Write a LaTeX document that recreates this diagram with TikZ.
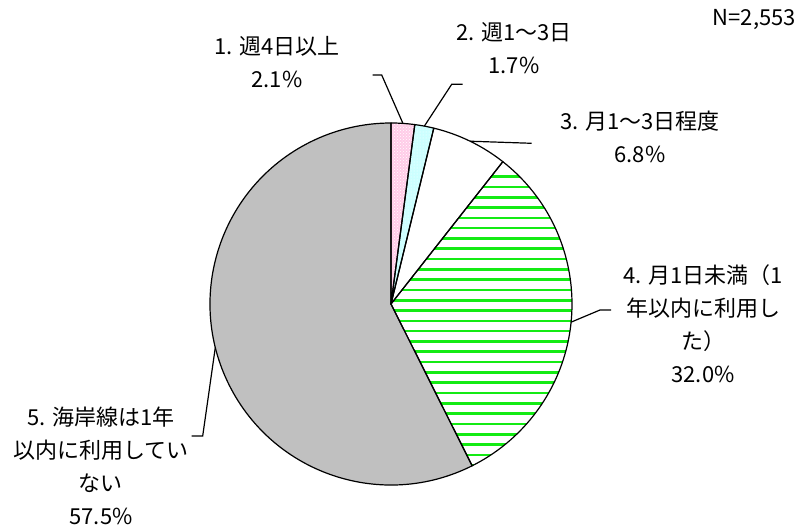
\documentclass[tikz,border=0pt]{standalone}
\usepackage{fontspec}
\setmainfont{Noto Sans CJK JP}
\usepackage{xcolor}
\usepackage{tikz}
\usetikzlibrary{patterns}
\definecolor{pinkfill}{RGB}{255,204,232}
\definecolor{cyanfill}{RGB}{204,255,255}
\definecolor{grayfill}{RGB}{192,192,192}
\definecolor{stripegreen}{RGB}{20,235,20}

\begin{document}
\begin{tikzpicture}[x=1pt,y=1pt,
          slice/.style={draw,line width=1.2pt,line join=round},
          lead/.style={draw,line width=1.2pt},
          lbl/.style={align=center,inner sep=0pt,font=\fontsize{22}{33}\selectfont}]
          \def\r{181}
          \useasboundingbox (0,0) rectangle (801,528);
          \coordinate (O) at (391,224);
          \fill[grayfill] (O) -- +(-63.36:\r) arc[start angle=-63.36,end angle=-270,radius=\r] -- cycle;
          \fill[pinkfill] (O) -- +(90:\r) arc[start angle=90,end angle=82.44,radius=\r] -- cycle;
          \fill[pattern=crosshatch dots,pattern color=white] (O) -- +(90:\r) arc[start angle=90,end angle=82.44,radius=\r] -- cycle;
          \fill[cyanfill] (O) -- +(82.44:\r) arc[start angle=82.44,end angle=76.32,radius=\r] -- cycle;
          \fill[pattern=dots,pattern color=white] (O) -- +(82.44:\r) arc[start angle=82.44,end angle=76.32,radius=\r] -- cycle;
          \begin{scope}
            \clip (O) -- +(51.84:\r) arc[start angle=51.84,end angle=-63.36,radius=\r] -- cycle;
            \foreach \k in {0,...,30}
              \draw[stripegreen,line width=2.6pt] (380,{351.3-10.3*\k}) -- (590,{351.3-10.3*\k});
          \end{scope}
          \foreach \a/\b in {90/82.44,82.44/76.32,76.32/51.84,51.84/-63.36,-63.36/-270}
            \draw[slice] (O) -- +(\a:\r) arc[start angle=\a,end angle=\b,radius=\r] -- cycle;
          \path (O) ++(86.22:\r) coordinate (p1)
                (O) ++(79.38:\r) coordinate (p2)
                (O) ++(64.08:\r) coordinate (p3)
                (O) ++(-5.76:\r) coordinate (p4)
                (O) ++(193.9:\r) coordinate (p5);
          \coordinate (k1) at (381.7,453);
          \coordinate (e1) at (372.7,453);
          \coordinate (k2) at (451.7,443.7);
          \coordinate (e2) at (462.7,443.7);
          \coordinate (e3) at (531.7,384.7);
          \coordinate (k4) at (600,218);
          \coordinate (e4) at (611,218);
          \coordinate (k5) at (202.7,92);
          \coordinate (e5) at (191.7,92);
          \draw[lead] (p1) -- (k1) -- (e1);
          \draw[lead] (p2) -- (k2) -- (e2);
          \draw[lead] (p3) -- (e3);
          \draw[lead] (p4) -- (k4) -- (e4);
          \draw[lead] (p5) -- (k5) -- (e5);
          \node[lbl] (l1) at (277,465.5) {1. 週4日以上\\2.1\%};
          \node[lbl] (l2) at (514,479.5) {2. 週1～3日\\1.7\%};
          \node[lbl] (l3) at (640,391.5) {3. 月1～3日程度\\6.8\%};
          \node[lbl] (l4) at (703,204.5) {4. 月1日未満（1\\年以内に利用し\\た）\\32.0\%};
          \node[lbl] (l5) at (101,62) {5. 海岸線は1年\\以内に利用してい\\ない\\57.5\%};
          \node[lbl,anchor=east] (n) at (796,508) {N=2,553};
        \end{tikzpicture}
\end{document}
